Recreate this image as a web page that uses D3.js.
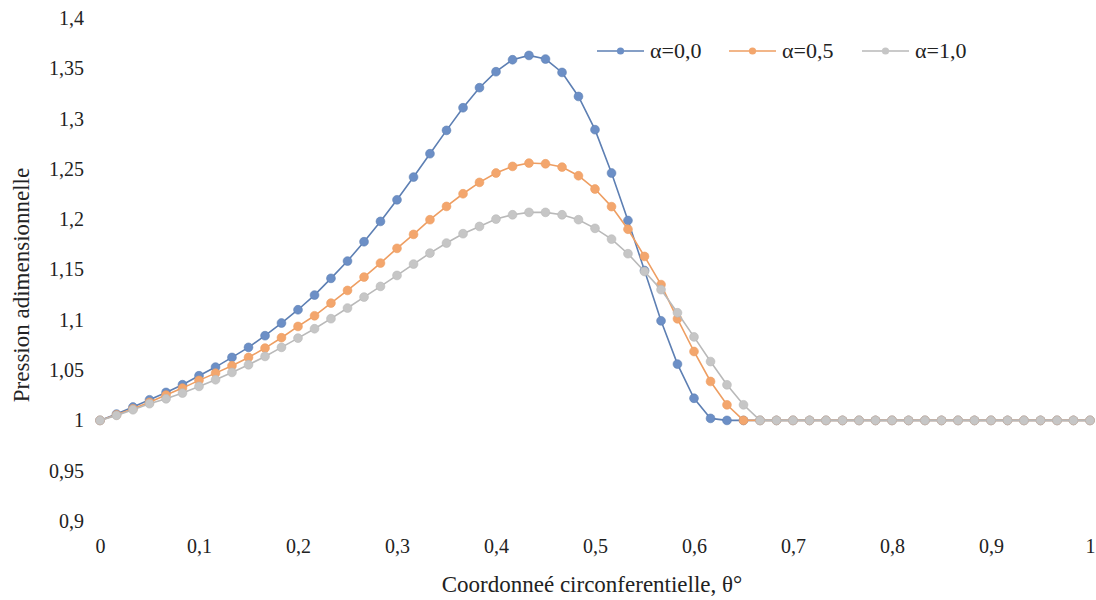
<!DOCTYPE html>
<html>
<head>
<meta charset="utf-8">
<script src="https://cdn.jsdelivr.net/npm/d3@7"></script>
<style>
  html, body { margin: 0; padding: 0; background: #fff; }
  svg text { fill: #222; }
</style>
</head>
<body>
<svg id="chart" width="1096" height="600"></svg>
<script>
const theta = [0,0.0167,0.0333,0.05,0.0667,0.0833,0.1,0.1167,0.1333,0.15,0.1667,0.1833,0.2,0.2167,0.2333,0.25,0.2667,0.2833,0.3,0.3167,0.3333,0.35,0.3667,0.3833,0.4,0.4167,0.4333,0.45,0.4667,0.4833,0.5,0.5167,0.5333,0.55,0.5667,0.5833,0.6,0.6167,0.6333,0.65,0.6667,0.6833,0.7,0.7167,0.7333,0.75,0.7667,0.7833,0.8,0.8167,0.8333,0.85,0.8667,0.8833,0.9,0.9167,0.9333,0.95,0.9667,0.9833,1];

const alpha00 = [1.000,1.0063,1.0133,1.0205,1.0278,1.0355,1.0444,1.053,1.0626,1.0726,1.0842,1.0968,1.110,1.1246,1.1412,1.1584,1.1776,1.1978,1.2193,1.2419,1.2651,1.2883,1.3108,1.3307,1.3466,1.3585,1.3628,1.3592,1.3459,1.322,1.289,1.2459,1.1987,1.149,1.099,1.056,1.022,1.002,
  1,1,1,1,1,1,1,1,1,1,1,1,1,1,1,1,1,1,1,1,1,1,1];

const alpha05 = [1.000,1.0055,1.0115,1.018,1.0252,1.0321,1.0398,1.047,1.0543,1.0626,1.0719,1.0822,1.0934,1.104,1.1166,1.1292,1.1425,1.1564,1.171,1.1849,1.1995,1.2127,1.2253,1.2366,1.2459,1.2525,1.2558,1.2551,1.2518,1.2432,1.230,1.2125,1.190,1.163,1.135,1.101,1.0685,1.0387,1.0155,1.000,
  1,1,1,1,1,1,1,1,1,1,1,1,1,1,1,1,1,1,1,1,1];

const alpha10 = [1.000,1.005,1.0106,1.0166,1.0215,1.0272,1.0338,1.0404,1.0477,1.0553,1.0636,1.0726,1.0818,1.0911,1.1011,1.1117,1.1226,1.1332,1.1441,1.1554,1.1663,1.1763,1.1856,1.1928,1.2001,1.2044,1.2068,1.2068,1.2044,1.1995,1.1909,1.1802,1.1657,1.148,1.130,1.107,1.083,1.0585,1.0354,1.0155,1.000,
  1,1,1,1,1,1,1,1,1,1,1,1,1,1,1,1,1,1,1,1];

const seriesNames = ["α=0,0", "α=0,5", "α=1,0"];
const xTicks = [0,0.1,0.2,0.3,0.4,0.5,0.6,0.7,0.8,0.9,1];
const yTicks = [0.9,0.95,1,1.05,1.1,1.15,1.2,1.25,1.3,1.35,1.4];
const xTitle = "Coordonneé circonferentielle, θ°";
const yTitle = "Pression adimensionnelle";

const lineColors = ["#5d7fb3", "#ee9e62", "#b9b9b9"];
const markColors = ["#6c8fc6", "#f3a66d", "#c6c6c6"];
const SERIF = "Liberation Serif, Times New Roman, Times, Noto Serif, DejaVu Serif, FreeSerif, serif";

const svg = d3.select("#chart");
const x = d3.scaleLinear().domain([0, 1]).range([100, 1090]);
const y = d3.scaleLinear().domain([0.9, 1.4]).range([521, 18]);

const fmt = d => String(+d.toFixed(2)).replace(".", ",");

// Y axis (labels only)
const yAxis = d3.axisLeft(y).tickValues(yTicks).tickFormat(fmt).tickSize(0).tickPadding(0);
const gy = svg.append("g").attr("transform", "translate(84,0)").call(yAxis)
  .attr("font-family", null).attr("font-size", null);
gy.select(".domain").remove();
gy.selectAll("text").style("font-family", SERIF).style("font-size", "20px").attr("fill", "#222");

// X axis (labels only)
const xAxis = d3.axisBottom(x).tickValues(xTicks).tickFormat(fmt).tickSize(0).tickPadding(0);
const gx = svg.append("g").attr("transform", "translate(0,539)").call(xAxis)
  .attr("font-family", null).attr("font-size", null);
gx.select(".domain").remove();
gx.selectAll("text").style("font-family", SERIF).style("font-size", "20px").attr("fill", "#222");

// Titles
svg.append("text").attr("x", 592).attr("y", 592).attr("text-anchor", "middle")
  .style("font-family", SERIF).style("font-size", "23px").text(xTitle);
svg.append("text").attr("transform", "translate(29,285) rotate(-90)").attr("text-anchor", "middle")
  .style("font-family", SERIF).style("font-size", "23px").text(yTitle);

// Series
const allSeries = [alpha00, alpha05, alpha10];
const line = d3.line().x((d, i) => x(theta[i])).y(d => y(d));
allSeries.forEach((vals, s) => {
  const g = svg.append("g");
  g.append("path").datum(vals).attr("d", line)
    .attr("fill", "none").attr("stroke", lineColors[s]).attr("stroke-width", 1.6);
  g.selectAll("circle").data(vals).enter().append("circle")
    .attr("cx", (d, i) => x(theta[i])).attr("cy", d => y(d)).attr("r", 4.4)
    .attr("fill", markColors[s]).attr("stroke", lineColors[s]).attr("stroke-width", 0.6);
});

// Legend
const legX = [597, 729, 862];
seriesNames.forEach((name, s) => {
  const g = svg.append("g").attr("transform", `translate(${legX[s]},51)`);
  g.append("line").attr("x1", 0).attr("x2", 47).attr("y1", 0).attr("y2", 0)
    .attr("stroke", lineColors[s]).attr("stroke-width", 1.6);
  g.append("circle").attr("cx", 23.5).attr("cy", 0).attr("r", 3.6).attr("fill", markColors[s]);
  g.append("text").attr("x", 53).attr("y", 7).style("font-family", SERIF).style("font-size", "22px").text(name);
});
</script>
</body>
</html>
